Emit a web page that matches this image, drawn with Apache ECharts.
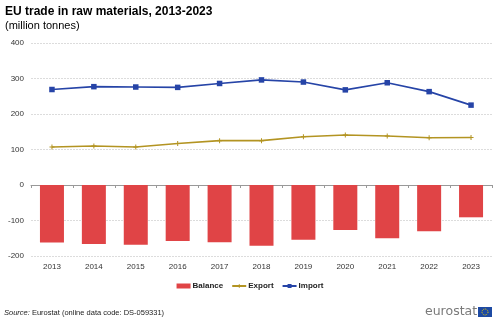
<!DOCTYPE html>
<html>
<head>
<meta charset="utf-8">
<script src="https://cdn.jsdelivr.net/npm/echarts@6/dist/echarts.min.js"></script>
<style>
  html, body { margin: 0; padding: 0; background: #fff; }
  #chart { width: 500px; height: 325px; }
</style>
</head>
<body>
<div id="chart"></div>
<script>
// EU trade in raw materials (million tonnes)
const years = ['2013', '2014', '2015', '2016', '2017', '2018', '2019', '2020', '2021', '2022', '2023'];
const balance = [-162, -166, -168, -158, -161, -171, -154, -127, -150, -130, -91];
const exportVals = [107, 110, 107, 117, 125, 125, 136, 141, 138, 133, 134];
const importVals = [269, 277, 276, 275, 286, 296, 290, 268, 288, 263, 225];
const yTicks = [-200, -100, 0, 100, 200, 300, 400];

const RED = '#E04446';
const GOLD = '#B39422';
const BLUE = '#2644A7';
const FONT = 'Liberation Sans, Arial, sans-serif';
const plusPath = 'path://M4,0 L6,0 L6,4 L10,4 L10,6 L6,6 L6,10 L4,10 L4,6 L0,6 L0,4 L4,4 Z';

const chart = echarts.init(document.getElementById('chart'), null, { renderer: 'canvas' });
chart.setOption({
  animation: false,
  textStyle: { fontFamily: FONT },
  title: {
    text: 'EU trade in raw materials, 2013-2023',
    subtext: '(million tonnes)',
    left: 0, top: 1,
    itemGap: 2,
    textStyle: { fontSize: 12, fontWeight: 'bold', color: '#000', fontFamily: FONT },
    subtextStyle: { fontSize: 11, color: '#000', fontFamily: FONT }
  },
  grid: { left: 31, right: 8, top: 43, bottom: 69 },
  legend: {
    top: 277, left: 'center',
    itemWidth: 14, itemHeight: 5, itemGap: 8,
    textStyle: { fontSize: 8, fontWeight: 'bold', color: '#222', fontFamily: FONT, padding: [0, 0, 0, -3] },
    data: [
      { name: 'Balance', icon: 'rect', itemStyle: { color: RED } },
      { name: 'Export' },
      { name: 'Import' }
    ]
  },
  xAxis: [
    {
      type: 'category', data: years, position: 'bottom',
      axisLine: { show: false, onZero: false }, axisTick: { show: false },
      axisLabel: { fontSize: 8, color: '#333', margin: 7, fontFamily: FONT }
    },
    {
      type: 'category', data: years, position: 'bottom',
      axisLine: { show: true, onZero: true, lineStyle: { color: '#999', width: 1 } },
      axisTick: { show: true, length: 3, lineStyle: { color: '#999' } },
      axisLabel: { show: false }
    }
  ],
  yAxis: {
    type: 'value', min: -200, max: 400, interval: 100,
    axisLine: { show: false }, axisTick: { show: false },
    axisLabel: {
      fontSize: 8, color: '#333', margin: 7, fontFamily: FONT,
      formatter: v => yTicks.includes(v) ? String(v) : ''
    },
    splitLine: { lineStyle: { color: '#dcdcdc', type: [2, 1], width: 1 } }
  },
  series: [
    {
      name: 'Balance', type: 'bar', data: balance,
      barWidth: 24, itemStyle: { color: RED }
    },
    {
      name: 'Export', type: 'line', data: exportVals,
      symbol: plusPath, symbolSize: 5,
      lineStyle: { color: GOLD, width: 1.6 },
      itemStyle: { color: GOLD }
    },
    {
      name: 'Import', type: 'line', data: importVals,
      symbol: 'rect', symbolSize: 5.5,
      lineStyle: { color: BLUE, width: 1.6 },
      itemStyle: { color: BLUE }
    }
  ],
  graphic: [
    {
      type: 'text', left: 4, top: 309,
      style: {
        text: '{i|Source:} Eurostat (online data code: DS-059331)',
        rich: {
          i: { fontStyle: 'italic', fontSize: 7.5, fill: '#222', fontFamily: FONT }
        },
        fontSize: 7.5, fill: '#222', fontFamily: FONT
      }
    },
    {
      type: 'text', left: 425, top: 305,
      style: { text: 'eurostat', fontSize: 12.5, fill: '#7a7a7a', fontFamily: 'DejaVu Sans, sans-serif' }
    },
    {
      type: 'rect', shape: { x: 478, y: 307, width: 14, height: 10 },
      style: { fill: '#1d4aa3' }
    },
    {
      type: 'circle', shape: { cx: 485, cy: 312, r: 3 },
      style: { fill: 'none', stroke: '#f5d000', lineWidth: 1, lineDash: [1, 1] }
    }
  ]
});
</script>
</body>
</html>
